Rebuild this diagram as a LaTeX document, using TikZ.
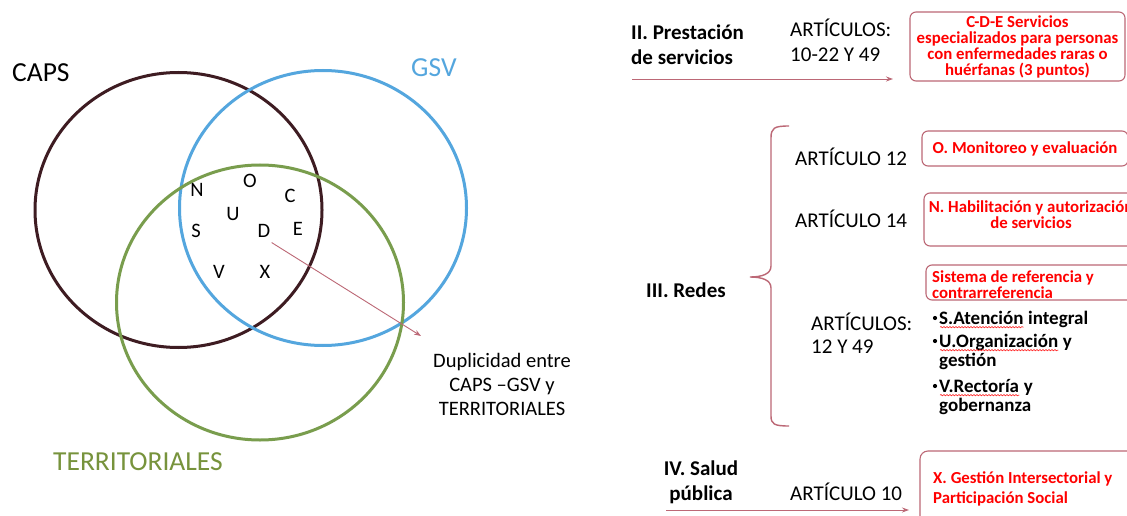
\documentclass[tikz,border=0pt]{standalone}
\usepackage{fontspec}
\setmainfont{Carlito}
\usetikzlibrary{arrows.meta,shapes.geometric,calc,decorations.pathmorphing}

\definecolor{capsc}{RGB}{62,28,34}
\definecolor{gsvc}{RGB}{84,166,222}
\definecolor{terrc}{RGB}{121,157,77}
\definecolor{terrtxt}{RGB}{119,147,60}
\definecolor{rose}{RGB}{188,104,118}

% lets lines sit closer than their glyph boxes allow
\newcommand\tightlines{\lineskiplimit=-20pt\relax}

\tikzset{
  setring/.style={ellipse, draw, line width=3pt, minimum width=287pt, minimum height=275pt, inner sep=0pt},
  setlabel/.style={font=\fontsize{27.5}{30}\selectfont, inner sep=0pt, anchor=base west},
  member/.style={font=\fontsize{20.5}{22}\selectfont, inner sep=0pt},
  conn/.style={draw=rose, line width=0.9pt, -{Stealth[length=7pt,width=5pt]}},
  head/.style={font=\bfseries\fontsize{21}{25}\selectfont, align=left, inner sep=0pt, anchor=base west},
  art/.style={font=\fontsize{21}{25}\selectfont, align=left, inner sep=0pt, anchor=base west},
  redbox/.style={draw=rose, line width=1.1pt, rounded corners=6pt, inner sep=0pt},
  redtext/.style={text=red, inner sep=0pt, font=\bfseries\fontsize{16.8}{16}\selectfont\tightlines},
  item/.style={font=\bfseries\fontsize{19}{19}\selectfont, inner sep=0pt, anchor=base west},
  dot/.style={circle, fill=black, inner sep=0pt, minimum size=4.2pt},
  wave/.style={red, line width=0.5pt, decorate, decoration={snake, amplitude=0.7pt, segment length=3pt}},
}

\begin{document}
\begin{tikzpicture}[x=1pt, y=-1pt]
\useasboundingbox (0,0) rectangle (1127,516);
\fill[white] (0,0) rectangle (1127,516);

% ---- Venn diagram ----
\node[setring, draw=capsc] (caps) at (178.5,210) {};
\node[setring, draw=gsvc]  (gsv)  at (323,208) {};
\node[setring, draw=terrc] (terr) at (260,302.5) {};

\node[setlabel] (capsl) at (12,82) {CAPS};
\node[setlabel, text=gsvc] (gsvl) at (411,77) {GSV};
\node[setlabel, text=terrtxt] (terrl) at (53,470) {TERRITORIALES};

\node[member] (n) at (197,190) {N};
\node[member] (o) at (250,181) {O};
\node[member] (c) at (290,195.5) {C};
\node[member] (u) at (233,214) {U};
\node[member] (s) at (196,231) {S};
\node[member] (d) at (264,231) {D};
\node[member] (e) at (298,229) {E};
\node[member] (v) at (219,272) {V};
\node[member] (x) at (265,272) {X};

% multi-line nodes are placed by the baseline of their last line
\node[font=\fontsize{20.5}{24}\selectfont, align=center, inner sep=0pt, anchor=base] (dup) at (502,415)
  {Duplicidad entre\\CAPS –GSV y\\TERRITORIALES};
\coordinate (dupend) at (421,336);
\draw[conn, shorten <=9pt] (d.south) -- (dupend);

% ---- II. Prestación de servicios ----
\node[head] (prest) at (631,65) {II. Prestación\\de servicios};
\node[art] (art2) at (790,62) {ARTÍCULOS:\\10-22 Y 49};
\node[redbox, redtext, align=center, minimum width=215pt, minimum height=69pt] (cde) at (1017.5,46.5)
  {C-D-E Servicios\\especializados para personas\\con enfermedades raras o\\huérfanas (3 puntos)};
\coordinate (a2s) at (632,79);
\coordinate (a2e) at (893,79);
\draw[conn] (a2s) -- (a2e);

% ---- III. Redes ----
\node[head] (redes) at (646,297) {III. Redes};
\coordinate (brtop) at (789,126);
\coordinate (brtip) at (750,277);
\coordinate (brbot) at (789,426);
\draw[rose, line width=1.4pt]
  (brtop) .. controls (774,126) and (771,128) .. (771,138) -- (771,266)
  .. controls (771,274) and (762,277) .. (brtip)
  .. controls (762,277) and (771,280) .. (771,288) -- (771,416)
  .. controls (771,424) and (774,426) .. (brbot);

\node[art] (a12) at (795,165) {ARTÍCULO 12};
\node[redbox, redtext, minimum width=206pt, minimum height=35pt] (mon) at (1025,148.5) {O. Monitoreo y evaluación};

\node[art] (a14) at (795,227) {ARTÍCULO 14};
\node[redbox, minimum width=214pt, minimum height=53pt] (hab) at (1031,219.5) {};
\node[redtext, align=center, anchor=base] (habt) at (1031,228) {N. Habilitación y autorización\\de servicios};

\node[redbox, minimum width=214pt, minimum height=35pt] (sis) at (1033,282.5) {};
\node[redtext, align=left, anchor=base west] (sist) at (932,298) {Sistema de referencia y\\contrarreferencia};

\node[art, font=\fontsize{21}{23}\selectfont] (a1249) at (811,353) {ARTÍCULOS:\\12 Y 49};

% bulleted list
\node[item] (it1w) at (939,324) {S.Atención};
\node[item] (it1r) at (it1w.base east) {\ integral};
\node[item] (it2w) at (939,347) {U.Organización};
\node[item] (it2r) at (it2w.base east) {\ y};
\node[item] (it2b) at (939,366) {gestión};
\node[item] (it3w) at (939,392) {V.Rectoría};
\node[item] (it3r) at (it3w.base east) {\ y};
\node[item] (it3b) at (939,411) {gobernanza};
\foreach \k in {it1w,it2w,it3w}{
  \node[dot] at ($(\k.base west)+(-4,-6)$) {};
  \draw[wave] ($(\k.base west)+(1,3.2)$) -- ($(\k.base east)+(0,3.2)$);
}

% ---- IV. Salud pública ----
\node[head, align=center, anchor=base] (salud) at (701,500) {IV. Salud\\pública};
\node[art] (a10) at (790,500) {ARTÍCULO 10};
\node[redbox, rounded corners=8pt, minimum width=220pt, minimum height=79pt] (ges) at (1030,490.5) {};
\node[redtext, font=\bfseries\fontsize{16.8}{20}\selectfont, align=left, anchor=base west] (gest) at (933,503)
  {X. Gestión Intersectorial y\\Participación Social};
\coordinate (a4s) at (666,510);
\coordinate (a4e) at (909,510);
\draw[conn] (a4s) -- (a4e);
\end{tikzpicture}
\end{document}
